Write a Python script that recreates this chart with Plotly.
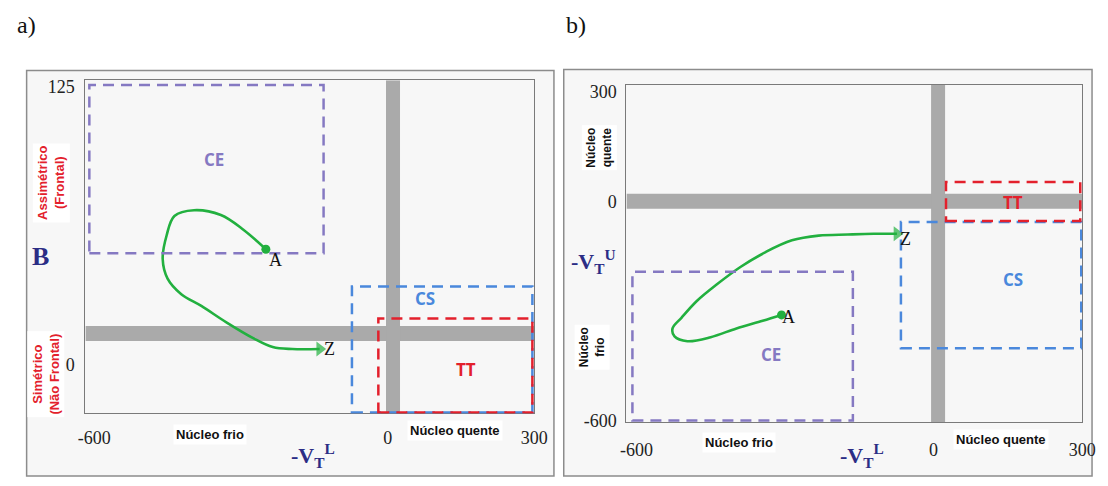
import plotly.graph_objects as go

W, H = 1108, 486

# ---------------- data ----------------
# panel a axes
a_x_range = [-618, 300]
a_y_range = [-22, 128]
a_x_ticks = [-600, 0, 300]
a_y_ticks = [0, 125]
# panel b axes
b_x_range = [-620, 300]
b_y_range = [-605, 318]
b_x_ticks = [-600, 0, 300]
b_y_ticks = [-600, 0, 300]

# trajectory A -> Z, panel a (-VT_L, B)
a_vtl = [-249, -295, -341, -396, -436, -452, -460, -450, -422, -381, -329, -275, -235, -195, -139]
a_b = [51.9, 60.7, 67.3, 69.5, 66.9, 58.1, 47.5, 38.7, 31.7, 26.4, 18.9, 11.9, 7.9, 7.0, 7.0]
# trajectory A -> Z, panel b (-VT_L, -VT_U)
b_vtl = [-307, -345, -398, -450, -497, -523, -527, -509, -478, -438, -390, -339, -286, -232, -173, -121, -74]
b_vtu = [-311, -327, -348, -372, -383, -370, -348, -319, -273, -228, -180, -139, -107, -94, -91, -89, -89]

# thresholds (grey bars)
a_thr_x, a_thr_y = 11, 14
b_thr_x, b_thr_y = 9, 0

# regions: name -> (x0, x1, y0, y1)
a_regions = {"CS": (-73, 296, -21.6, 35.2), "TT": (-19, 296, -21.6, 20.7), "CE": (-610, -131, 50.1, 125.8)}
b_regions = {"CE": (-608, -163, -600, -193), "CS": (-66, 298, -402, -57), "TT": (25, 296, -54, 53)}
region_names = ["CE", "CS", "TT"]

# ---------------- styles ----------------
col = {"CE": "#8579c2", "CS": "#4a88dc", "TT": "#e3202c"}
green = "#22b03f"
grey = "#aaaaaa"
navy = "#2b2d85"
bg = "#f7f7f7"
SERIF = "Liberation Serif"
SANS = "Liberation Sans"


def P(px, py):
    return px / W, 1 - py / H


fig = go.Figure()

# trajectories: start dot (A) and arrow head (Z) as markers oriented along the line
for xs, ys, xa, ya in [(a_vtl, a_b, "x", "y"), (b_vtl, b_vtu, "x2", "y2")]:
    n = len(xs)
    fig.add_trace(go.Scatter(x=xs, y=ys, mode="lines", line=dict(color=green, width=2.6, shape="spline"),
                             xaxis=xa, yaxis=ya, showlegend=False, hoverinfo="skip"))
    fig.add_trace(go.Scatter(x=[xs[0]], y=[ys[0]], mode="markers", marker=dict(color=green, size=9),
                             xaxis=xa, yaxis=ya, showlegend=False, hoverinfo="skip"))
    fig.add_trace(go.Scatter(x=[xs[-2], xs[-1]], y=[ys[-2], ys[-1]], mode="markers",
                             marker=dict(color=green, size=[0, 13], symbol="triangle-up",
                                         angleref="previous", angle=0, line=dict(width=0)),
                             xaxis=xa, yaxis=ya, showlegend=False, hoverinfo="skip"))

shapes = []
# outer frames
for (x0, x1, y0, y1) in [(19, 557, 69, 484), (567, 1106, 68, 484)]:
    shapes.append(dict(type="rect", xref="paper", yref="paper", x0=x0 / W, x1=x1 / W, y0=1 - y1 / H, y1=1 - y0 / H,
                       line=dict(color="#8c8c8c", width=1.5), fillcolor=bg, layer="below"))

# grey threshold bars
for xr, yr, tx, ty, xa, ya in [(a_x_range, a_y_range, a_thr_x, a_thr_y, "x", "y"),
                               (b_x_range, b_y_range, b_thr_x, b_thr_y, "x2", "y2")]:
    shapes.append(dict(type="line", xref=xa, yref=ya, x0=xr[0], x1=xr[1], y0=ty, y1=ty,
                       line=dict(color=grey, width=15), layer="below"))
    shapes.append(dict(type="line", xref=xa, yref=ya, x0=tx, x1=tx, y0=yr[0], y1=yr[1],
                       line=dict(color=grey, width=14), layer="below"))

# dashed regions
for regs, xa, ya in [(a_regions, "x", "y"), (b_regions, "x2", "y2")]:
    for name, (x0, x1, y0, y1) in regs.items():
        shapes.append(dict(type="rect", xref=xa, yref=ya, x0=x0, x1=x1, y0=y0, y1=y1,
                           line=dict(color=col[name], width=2.5, dash="11px,7px"), layer="above"))

ann = []
# region labels
a_lab_pos = {"CE": (-355, 92.4), "CS": (76, 29.9), "TT": (160, -2.2)}
b_lab_pos = {"CE": (-329, -420), "CS": (160, -214), "TT": (160, -3)}
for pos, xa, ya in [(a_lab_pos, "x", "y"), (b_lab_pos, "x2", "y2")]:
    for name in region_names:
        x, y = pos[name]
        ann.append(dict(x=x, y=y, xref=xa, yref=ya, text="<b>%s</b>" % name, showarrow=False,
                        font=dict(family="Open Sans", size=17, color=col[name], weight=800)))

# point labels
for x, y, t, xa, ya in [(-229, 47, "A", "x", "y"), (-119, 7, "Z", "x", "y"),
                        (-292, -316, "A", "x2", "y2"), (-56, -102, "Z", "x2", "y2")]:
    ann.append(dict(x=x, y=y, xref=xa, yref=ya, text=t, showarrow=False,
                    font=dict(family=SERIF, size=18, color="#111111")))


def pa(px, py, text, font, angle=0, bgc=None):
    x, y = P(px, py)
    d = dict(x=x, y=y, xref="paper", yref="paper", text=text, showarrow=False, font=font,
             textangle=angle, xanchor="center", yanchor="middle")
    if bgc:
        d.update(bgcolor=bgc, borderpad=2)
    ann.append(d)


pa(19, 22, "a)", dict(family=SERIF, size=24, color="#111111"))
pa(579, 22, "b)", dict(family=SERIF, size=24, color="#111111"))

vt_font = dict(family=SERIF, size=22, color=navy)
pa(311, 463, "<b>-V</b><sub><b>T</b></sub><sup><b>L</b></sup>", vt_font)
pa(871, 463, "<b>-V</b><sub><b>T</b></sub><sup><b>L</b></sup>", vt_font)
pa(597, 264, "<b>-V</b><sub><b>T</b></sub><sup><b>U</b></sup>", vt_font)
pa(33, 259, "<b>B</b>", dict(family=SERIF, size=26, color=navy))

red_font = dict(family=SANS, size=13, color="#e3202c")
pa(44, 184, "<b>Assimétrico<br>(Frontal)</b>", red_font, -90, "white")
pa(39, 380, "<b>Simétrico<br>(Não Frontal)</b>", red_font, -90, "white")

blk_font = dict(family=SANS, size=12, color="#111111")
pa(603, 148, "<b>Núcleo<br>quente</b>", blk_font, -90, "white")
pa(596, 352, "<b>Núcleo<br>frio</b>", blk_font, -90, "white")

h_font = dict(family=SANS, size=13, color="#111111")
pa(206, 441, "<b>Núcleo frio</b>", h_font, 0, "white")
pa(456, 437, "<b>Núcleo quente</b>", h_font, 0, "white")
pa(746, 450, "<b>Núcleo frio</b>", h_font, 0, "white")
pa(1013, 447, "<b>Núcleo quente</b>", h_font, 0, "white")

tick_font = dict(family=SERIF, size=18, color="#222222")


def axis(rng, ticks, dom, anchor, ticklen):
    return dict(range=rng, tickvals=ticks, ticktext=[str(t) for t in ticks], domain=dom, anchor=anchor,
                showgrid=False, zeroline=False, showline=True, linecolor="#7a7a7a", linewidth=1,
                mirror=True, ticks="outside", ticklen=ticklen, tickcolor="rgba(0,0,0,0)",
                tickfont=tick_font, fixedrange=True)


fig.update_layout(
    width=W, height=H, margin=dict(l=0, r=0, t=0, b=0),
    paper_bgcolor="white", plot_bgcolor=bg, showlegend=False,
    xaxis=axis(a_x_range, a_x_ticks, [79 / W, 537 / W], "y", 8),
    yaxis=axis(a_y_range, a_y_ticks, [1 - 420 / H, 1 - 79 / H], "x", 6),
    xaxis2=axis(b_x_range, b_x_ticks, [631 / W, 1096 / W], "y2", 11),
    yaxis2=axis(b_y_range, b_y_ticks, [1 - 429 / H, 1 - 84 / H], "x2", 5),
    shapes=shapes, annotations=ann,
)

fig.write_html("out.html")
